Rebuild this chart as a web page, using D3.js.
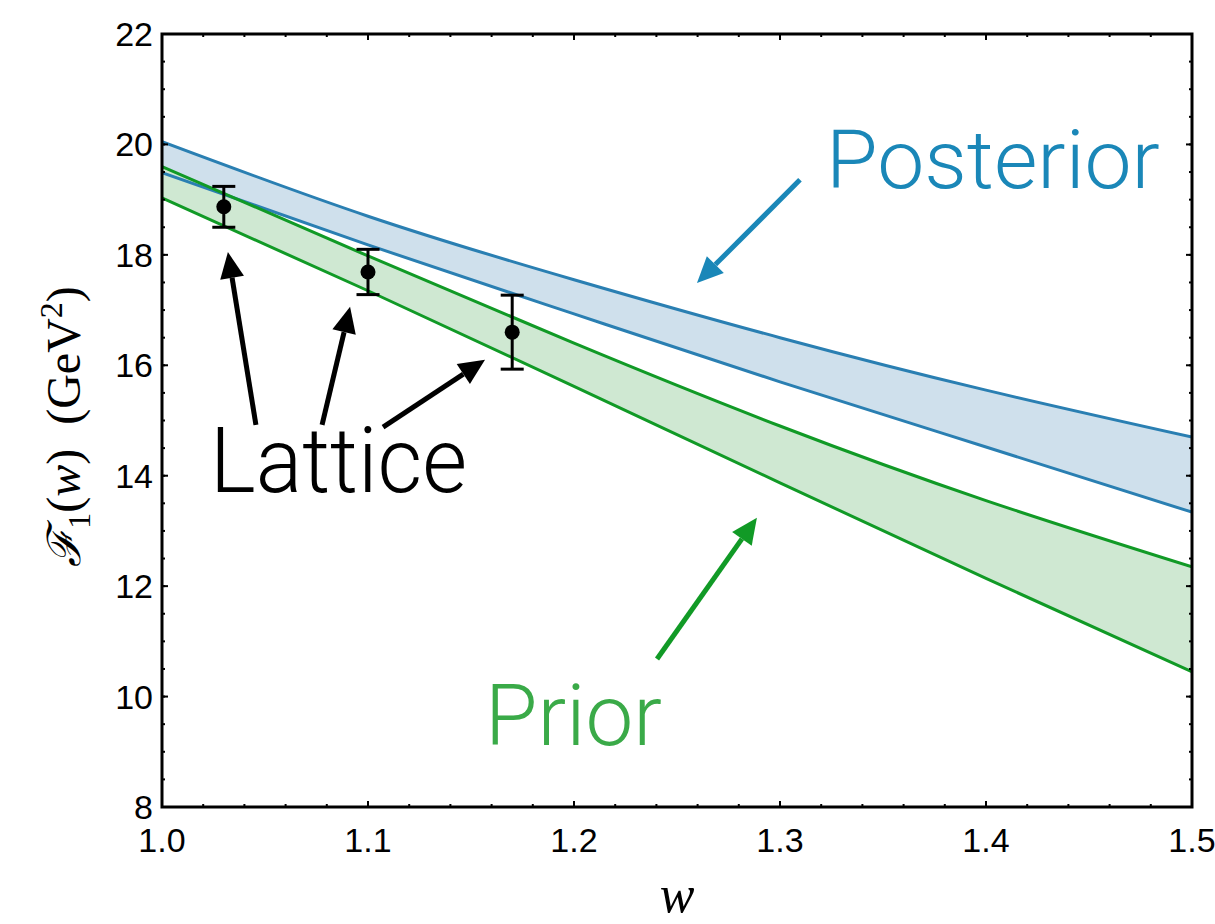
<!DOCTYPE html>
<html>
<head>
<meta charset="utf-8">
<script src="https://cdn.jsdelivr.net/npm/d3@7"></script>
<style>
  html, body { margin: 0; padding: 0; background: #fff; }
  svg { display: block; }
</style>
</head>
<body>
<svg id="chart" width="1215" height="924"></svg>
<script>
// Form factor bands, sampled along w
const wGrid = [1.0, 1.1, 1.2, 1.3, 1.4, 1.5];
const posteriorUpper = [20.05, 18.70, 17.55, 16.50, 15.55, 14.70];
const posteriorLower = [19.49, 18.18, 16.93, 15.70, 14.52, 13.34];
const priorUpper = [19.60, 17.98, 16.40, 14.90, 13.55, 12.35];
const priorLower = [19.03, 17.35, 15.62, 13.87, 12.14, 10.45];

// Lattice data points with uncertainties
const latticeW = [1.03, 1.10, 1.17];
const latticeF = [18.87, 17.69, 16.60];
const latticeErr = [0.37, 0.41, 0.67];

// Axis ticks
const xTicks = [1.0, 1.1, 1.2, 1.3, 1.4, 1.5];
const yTicks = [8, 10, 12, 14, 16, 18, 20, 22];

// Annotation arrows in data coordinates: [w0, F0, w1, F1]
const latticeArrows = [
  [1.0456, 14.92, 1.032, 18.05],
  [1.0777, 14.92, 1.0913, 17.06],
  [1.1073, 14.88, 1.1568, 16.10]
];
const posteriorArrow = [1.3097, 19.36, 1.2597, 17.49];
const priorArrow = [1.2403, 10.68, 1.2888, 13.24];

const svg = d3.select("#chart");
const margin = { left: 162, top: 34, right: 1215 - 1192, bottom: 924 - 807 };
const W = 1215, H = 924;

const x = d3.scaleLinear().domain([1.0, 1.5]).range([margin.left, W - margin.right]);
const y = d3.scaleLinear().domain([8, 22]).range([H - margin.bottom, margin.top]);

const blueLine = "#2a7fb2", blueFill = "#cfe0ec";
const greenLine = "#119a26", greenFill = "#cfe8d2";

svg.append("clipPath").attr("id", "plotClip")
  .append("rect").attr("x", x(1.0)).attr("y", y(22)).attr("width", x(1.5) - x(1.0)).attr("height", y(8) - y(22));

const plot = svg.append("g").attr("clip-path", "url(#plotClip)");

function band(upper, lower, line, fill) {
  const rows = wGrid.map((w, i) => ({ w, hi: upper[i], lo: lower[i] }));
  const area = d3.area().curve(d3.curveNatural)
    .x(d => x(d.w)).y0(d => y(d.lo)).y1(d => y(d.hi));
  plot.append("path").datum(rows).attr("d", area).attr("fill", fill);
  const hiLine = d3.line().curve(d3.curveNatural).x(d => x(d.w)).y(d => y(d.hi));
  const loLine = d3.line().curve(d3.curveNatural).x(d => x(d.w)).y(d => y(d.lo));
  return { rows, hiLine, loLine, line };
}

const post = band(posteriorUpper, posteriorLower, blueLine, blueFill);
const prior = band(priorUpper, priorLower, greenLine, greenFill);
[post, prior].forEach(b => {
  plot.append("path").datum(b.rows).attr("d", b.hiLine).attr("fill", "none").attr("stroke", b.line).attr("stroke-width", 3);
  plot.append("path").datum(b.rows).attr("d", b.loLine).attr("fill", "none").attr("stroke", b.line).attr("stroke-width", 3);
});

// Lattice points with error bars
const pts = latticeW.map((w, i) => ({ w, f: latticeF[i], e: latticeErr[i] }));
const eb = svg.append("g").attr("stroke", "#000").attr("stroke-width", 3);
pts.forEach(p => {
  eb.append("line").attr("x1", x(p.w)).attr("x2", x(p.w)).attr("y1", y(p.f - p.e)).attr("y2", y(p.f + p.e));
  [p.f - p.e, p.f + p.e].forEach(v => {
    eb.append("line").attr("x1", x(p.w) - 11.5).attr("x2", x(p.w) + 11.5).attr("y1", y(v)).attr("y2", y(v));
  });
});
svg.append("g").selectAll("circle").data(pts).join("circle")
  .attr("cx", d => x(d.w)).attr("cy", d => y(d.f)).attr("r", 7.5).attr("fill", "#000");

// Frame and ticks
const frame = svg.append("g");
const minorX = d3.range(1.0, 1.5001, 0.02);
const minorY = d3.range(8, 22.001, 0.5);
function tickSet(vals, isX, len) {
  vals.forEach(v => {
    if (isX) {
      frame.append("line").attr("x1", x(v)).attr("x2", x(v)).attr("y1", y(8)).attr("y2", y(8) - len).attr("stroke", "#000").attr("stroke-width", 2);
      frame.append("line").attr("x1", x(v)).attr("x2", x(v)).attr("y1", y(22)).attr("y2", y(22) + len).attr("stroke", "#000").attr("stroke-width", 2);
    } else {
      frame.append("line").attr("y1", y(v)).attr("y2", y(v)).attr("x1", x(1.0)).attr("x2", x(1.0) + len).attr("stroke", "#000").attr("stroke-width", 2);
      frame.append("line").attr("y1", y(v)).attr("y2", y(v)).attr("x1", x(1.5)).attr("x2", x(1.5) - len).attr("stroke", "#000").attr("stroke-width", 2);
    }
  });
}
tickSet(minorX, true, 3);
tickSet(xTicks, true, 6);
tickSet(minorY, false, 3);
tickSet(yTicks, false, 6);
frame.append("rect").attr("x", x(1.0)).attr("y", y(22)).attr("width", x(1.5) - x(1.0)).attr("height", y(8) - y(22))
  .attr("fill", "none").attr("stroke", "#000").attr("stroke-width", 3);

// Tick labels
const tickFont = "'Liberation Sans', Arial, sans-serif";
svg.append("g").selectAll("text").data(xTicks).join("text")
  .attr("x", d => x(d)).attr("y", y(8) + 45)
  .attr("text-anchor", "middle").attr("font-family", tickFont).attr("font-size", 34)
  .text(d => d.toFixed(1));
svg.append("g").selectAll("text").data(yTicks).join("text")
  .attr("x", x(1.0) - 9).attr("y", d => y(d) + 12)
  .attr("text-anchor", "end").attr("font-family", tickFont).attr("font-size", 34)
  .text(d => d);

// Axis titles
svg.append("text").attr("x", (x(1.0) + x(1.5)) / 2).attr("y", 912)
  .attr("text-anchor", "middle").attr("font-family", "'Liberation Serif', serif").attr("font-style", "italic").attr("font-size", 52).text("w");

const yt = svg.append("text")
  .attr("transform", `translate(80, ${(y(8) + y(22)) / 2 + 6}) rotate(-90)`)
  .attr("text-anchor", "middle").attr("font-family", "'Liberation Serif', serif").attr("font-size", 48);
yt.append("tspan").attr("font-style", "italic").attr("font-family", "'DejaVu Serif', serif").attr("font-size", 46).text("ℱ");
yt.append("tspan").attr("font-size", 32).attr("dy", 10).text("1");
yt.append("tspan").attr("dy", -10).text("(");
yt.append("tspan").attr("font-style", "italic").text("w");
yt.append("tspan").text(")\u2002(GeV");
yt.append("tspan").attr("font-size", 32).attr("dy", -18).text("2");
yt.append("tspan").attr("dy", 18).text(")");

// Arrows
function arrow(a, color) {
  const [w0, f0, w1, f1] = a;
  const x0 = x(w0), y0 = y(f0), x1 = x(w1), y1 = y(f1);
  const ang = Math.atan2(y1 - y0, x1 - x0);
  const headLen = 26, headW = 12;
  const bx = x1 - headLen * Math.cos(ang), by = y1 - headLen * Math.sin(ang);
  svg.append("line").attr("x1", x0).attr("y1", y0).attr("x2", bx).attr("y2", by)
    .attr("stroke", color).attr("stroke-width", 5);
  const px = -Math.sin(ang), py = Math.cos(ang);
  svg.append("path")
    .attr("d", `M${x1},${y1}L${bx + px * headW},${by + py * headW}L${bx - px * headW},${by - py * headW}Z`)
    .attr("fill", color);
}
latticeArrows.forEach(a => arrow(a, "#000"));
arrow(posteriorArrow, "#1a87b8");
arrow(priorArrow, "#119a26");

// Annotation labels
const labelFont = "Roboto, 'Open Sans', sans-serif";
function label(txt, w, f, size, len, color) {
  svg.append("text").attr("x", x(w)).attr("y", y(f)).attr("font-family", labelFont).attr("font-weight", 300)
    .attr("font-size", size).attr("fill", color).attr("textLength", len).attr("lengthAdjust", "spacingAndGlyphs").text(txt);
}
label("Posterior", 1.3223, 19.21, 82, 334, "#1a87b8");
label("Lattice", 1.0233, 13.71, 90, 257, "#000");
label("Prior", 1.1568, 9.12, 86, 177, "#3aaa48");
</script>
</body>
</html>
